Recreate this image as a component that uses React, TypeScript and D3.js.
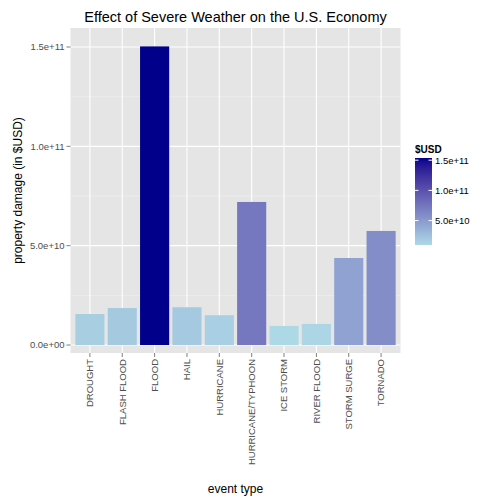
import React from "react";
import * as d3 from "d3";

const categories = ["DROUGHT","FLASH FLOOD","FLOOD","HAIL","HURRICANE","HURRICANE/TYPHOON","ICE STORM","RIVER FLOOD","STORM SURGE","TORNADO"];
const damage = [1.56e10,1.86e10,1.503e11,1.9e10,1.5e10,7.2e10,9.6e9,1.06e10,4.38e10,5.74e10];
const yTicks = [0,5e10,1e11,1.5e11];
const yTickLabels = ["0.0e+00","5.0e+10","1.0e+11","1.5e+11"];
const legendTicks = [5e10,1e11,1.5e11];
const legendLabels = ["5.0e+10","1.0e+11","1.5e+11"];

export default function App() {
  const L = 70.5, R = 400.5, T = 28, B = 353;
  const x = d3.scaleBand().domain(categories).range([L + 0.6 * 32.3 - 16.15, R - 0.6 * 32.3 + 16.15]).paddingInner(0.1).paddingOuter(0.05);
  const y = d3.scaleLinear().domain([0, 1.5e11]).range([345, 47]);
  const mn = d3.min(damage)!, mx = d3.max(damage)!;
  const color = d3.scaleLinear<string>().domain([mn, mx]).range(["#ADD8E6", "#00008B"]).interpolate(d3.interpolateLab);
  const lg = d3.scaleLinear().domain([mn, mx]).range([245, 160]);
  const stops = d3.range(0, 1.0001, 0.05);
  const minor = [2.5e10, 7.5e10, 1.25e11];
  const font = "Arial, 'Liberation Sans', sans-serif";
  return (
    <svg width={504} height={504} style={{ position: "absolute", left: 0, top: 0, fontFamily: font }}>
      <rect width={504} height={504} fill="white" />
      <rect x={L} y={T} width={R - L} height={B - T} fill="#E5E5E5" />
      {minor.map(v => <line key={v} x1={L} x2={R} y1={y(v)} y2={y(v)} stroke="#F2F2F2" strokeWidth={0.6} />)}
      {yTicks.map(v => <line key={v} x1={L} x2={R} y1={y(v)} y2={y(v)} stroke="white" strokeWidth={1.1} />)}
      {categories.map(c => <line key={c} x1={x(c)! + x.bandwidth() / 2} x2={x(c)! + x.bandwidth() / 2} y1={T} y2={B} stroke="white" strokeWidth={1.1} />)}
      {categories.map((c, i) => <rect key={c} x={x(c)} width={x.bandwidth()} y={y(damage[i])} height={y(0) - y(damage[i])} fill={color(damage[i])} />)}
      {yTicks.map((v, i) => (
        <g key={v}>
          <line x1={L - 4} x2={L} y1={y(v)} y2={y(v)} stroke="#7F7F7F" />
          <text x={L - 6} y={y(v)} dy="0.35em" textAnchor="end" fontSize={9.5} fill="#4D4D4D">{yTickLabels[i]}</text>
        </g>
      ))}
      {categories.map(c => {
        const cx = x(c)! + x.bandwidth() / 2;
        return (
          <g key={c}>
            <line x1={cx} x2={cx} y1={B} y2={B + 4} stroke="#7F7F7F" />
            <text transform={`translate(${cx},${B + 6}) rotate(-90)`} dy="0.35em" textAnchor="end" fontSize={9.5} fill="#4D4D4D">{c}</text>
          </g>
        );
      })}
      <text x={(L + R) / 2} y={22} textAnchor="middle" fontSize={14.5}>Effect of Severe Weather on the U.S. Economy</text>
      <text x={(L + R) / 2} y={493} textAnchor="middle" fontSize={12}>event type</text>
      <text transform={`translate(22,${(T + B) / 2}) rotate(-90)`} textAnchor="middle" fontSize={12}>property damage (in $USD)</text>
      <text x={415} y={153} fontSize={10} fontWeight="bold">$USD</text>
      <defs>
        <linearGradient id="lg" x1="0" y1="1" x2="0" y2="0">
          {stops.map(s => <stop key={s} offset={s} stopColor={color(mn + s * (mx - mn))} />)}
        </linearGradient>
      </defs>
      <rect x={415} y={158} width={17} height={87} fill="url(#lg)" />
      {legendTicks.map((v, i) => (
        <g key={v}>
          <line x1={415} x2={418.5} y1={lg(v)} y2={lg(v)} stroke="white" />
          <line x1={428.5} x2={432} y1={lg(v)} y2={lg(v)} stroke="white" />
          <text x={435} y={lg(v)} dy="0.35em" fontSize={9.5} fill="black">{legendLabels[i]}</text>
        </g>
      ))}
    </svg>
  );
}
